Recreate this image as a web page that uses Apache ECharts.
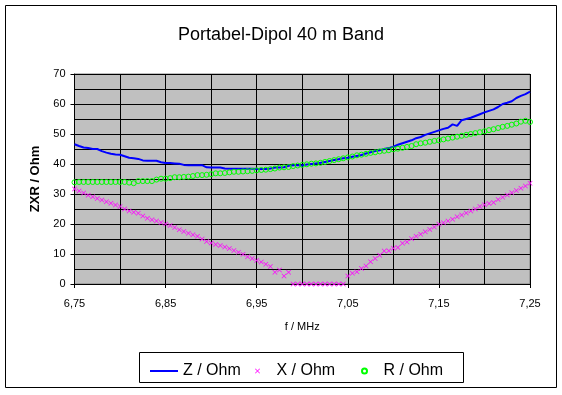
<!DOCTYPE html>
<html>
<head>
<meta charset="utf-8">
<script src="https://cdn.jsdelivr.net/npm/echarts@6/dist/echarts.min.js"></script>
<style>
  html, body { margin: 0; padding: 0; background: #fff; }
  #chart_box { width: 562px; height: 395px; }
</style>
</head>
<body>
<div id="chart_box"></div>
<script>
// Frequenz / MHz
const freq = [
  6.750, 6.755, 6.760, 6.765, 6.770, 6.775, 6.780, 6.785, 6.790, 6.795,
  6.800, 6.805, 6.810, 6.815, 6.820, 6.825, 6.830, 6.835, 6.840, 6.845,
  6.850, 6.855, 6.860, 6.865, 6.870, 6.875, 6.880, 6.885, 6.890, 6.895,
  6.900, 6.905, 6.910, 6.915, 6.920, 6.925, 6.930, 6.935, 6.940, 6.945,
  6.950, 6.955, 6.960, 6.965, 6.970, 6.975, 6.980, 6.985, 6.990, 6.995,
  7.000, 7.005, 7.010, 7.015, 7.020, 7.025, 7.030, 7.035, 7.040, 7.045,
  7.050, 7.055, 7.060, 7.065, 7.070, 7.075, 7.080, 7.085, 7.090, 7.095,
  7.100, 7.105, 7.110, 7.115, 7.120, 7.125, 7.130, 7.135, 7.140, 7.145,
  7.150, 7.155, 7.160, 7.165, 7.170, 7.175, 7.180, 7.185, 7.190, 7.195,
  7.200, 7.205, 7.210, 7.215, 7.220, 7.225, 7.230, 7.235, 7.240, 7.245,
  7.250
]
// Z / Ohm
const zOhm = [
  46.6, 46.0, 45.5, 45.3, 45.0, 45.0, 44.3, 43.8, 43.4, 43.2,
  43.1, 42.6, 42.1, 41.9, 41.7, 41.2, 41.1, 41.1, 41.1, 40.6,
  40.3, 40.3, 40.2, 40.1, 39.7, 39.6, 39.6, 39.6, 39.6, 38.9,
  38.8, 38.8, 38.8, 38.5, 38.4, 38.4, 38.4, 38.4, 38.4, 38.4,
  38.3, 38.3, 38.3, 38.5, 38.8, 38.8, 38.9, 39.4, 39.6, 39.6,
  39.5, 39.8, 40.0, 40.2, 40.4, 40.7, 41.0, 41.3, 41.6, 41.9,
  42.1, 42.4, 42.7, 43.0, 43.5, 43.9, 44.3, 44.6, 45.0, 45.3,
  45.8, 46.4, 46.9, 47.4, 47.9, 48.6, 49.0, 49.7, 50.2, 50.7,
  51.2, 51.7, 52.1, 53.2, 52.7, 54.6, 55.0, 55.4, 56.0, 56.6,
  57.2, 57.7, 58.2, 59.0, 60.0, 60.4, 60.9, 62.0, 62.7, 63.3,
  64.1
]
// X / Ohm
const xOhm = [
  31.7, 31.0, 30.3, 29.6, 29.1, 28.5, 28.0, 27.4, 26.9, 26.3,
  25.8, 25.0, 24.3, 23.9, 23.6, 22.7, 21.9, 21.4, 21.0, 20.5,
  20.0, 19.5, 18.8, 18.1, 17.5, 16.9, 16.4, 15.9, 15.0, 14.2,
  13.7, 13.2, 12.8, 12.3, 11.8, 11.2, 10.6, 9.9, 9.1, 8.5,
  7.8, 7.3, 6.6, 5.8, 3.9, 4.7, 2.7, 3.9, 0, 0,
  0, 0, 0, 0, 0, 0, 0, 0, 0, 0,
  2.7, 3.6, 4.1, 5.2, 6.0, 7.4, 8.5, 9.6, 11.0, 11.1,
  11.9, 12.2, 13.6, 14.0, 15.1, 15.9, 16.6, 17.4, 18.2, 19.0,
  19.9, 20.4, 21.0, 21.6, 22.4, 23.0, 23.7, 24.3, 25.0, 25.8,
  26.4, 26.8, 27.2, 28.2, 28.9, 29.7, 30.4, 31.2, 31.9, 32.7,
  33.6
]
// R / Ohm
const rOhm = [
  33.9, 34.0, 34.0, 34.0, 34.0, 34.0, 34.0, 34.0, 34.0, 34.0,
  34.0, 34.0, 33.8, 33.6, 34.3, 34.3, 34.3, 34.3, 34.8, 35.1,
  35.1, 35.3, 35.6, 35.6, 35.7, 35.8, 36.0, 36.3, 36.3, 36.4,
  36.6, 36.9, 36.9, 37.0, 37.2, 37.4, 37.4, 37.5, 37.6, 37.7,
  37.9, 38.0, 38.1, 38.3, 38.5, 38.8, 38.9, 39.0, 39.3, 39.5,
  39.7, 39.9, 40.1, 40.2, 40.4, 40.7, 41.0, 41.3, 41.6, 41.9,
  42.2, 42.5, 42.9, 43.1, 43.4, 43.7, 43.9, 44.2, 44.4, 44.6,
  44.9, 45.1, 45.4, 45.7, 46.0, 46.6, 46.9, 47.1, 47.4, 47.7,
  47.9, 48.2, 48.5, 48.8, 49.1, 49.4, 49.7, 50.0, 50.3, 50.6,
  50.9, 51.3, 51.6, 52.0, 52.4, 52.7, 53.1, 53.5, 54.1, 54.4,
  54.0
]
// Achsenbeschriftung
const xLabelValues = [6.75, 6.85, 6.95, 7.05, 7.15, 7.25]
const yLabelValues = [0, 10, 20, 30, 40, 50, 60, 70]

const fontName = 'Arial, "Liberation Sans", sans-serif'
// kleines x als gefuellter Pfad
const crossPath = 'path://M0,1L1,0L5,4L9,0L10,1L6,5L10,9L9,10L5,6L1,10L0,9L4,5Z'

function pairs(ys) {
  return freq.map((f, i) => [f, ys[i]])
}

const myEcharts = echarts.init(document.getElementById('chart_box'), null, { renderer: 'canvas' })

const legendText = { fontFamily: fontName, fontSize: 16, color: '#000' }
const gridLine = { show: true, lineStyle: { color: '#000', width: 1 } }

const option = {
  animation: false,
  backgroundColor: '#fff',
  title: {
    text: 'Portabel-Dipol 40 m Band',
    left: 'center',
    top: 21,
    textStyle: { fontFamily: fontName, fontSize: 18, fontWeight: 'normal', color: '#000' }
  },
  graphic: [
    // Rahmen aussen
    { type: 'rect', shape: { x: 5.5, y: 5.5, width: 551, height: 382 },
      style: { fill: null, stroke: '#000', lineWidth: 1 }, silent: true },
    // Legendenrahmen
    { type: 'rect', shape: { x: 139.5, y: 352.5, width: 324, height: 30 },
      style: { fill: null, stroke: '#000', lineWidth: 1 }, silent: true }
  ],
  legend: [
    { data: [{ name: 'Z / Ohm', icon: 'rect' }], left: 145, top: 358, itemWidth: 28, itemHeight: 2,
      selectedMode: false, textStyle: legendText },
    { data: ['X / Ohm'], left: 250, top: 358, itemWidth: 28, itemHeight: 5,
      selectedMode: false, textStyle: legendText },
    { data: ['R / Ohm'], left: 356, top: 358, itemWidth: 28, itemHeight: 5,
      selectedMode: false, textStyle: legendText }
  ],
  grid: {
    left: 74.5, right: 32, top: 74, bottom: 111,
    show: true, backgroundColor: '#C0C0C0', borderColor: '#808080', borderWidth: 1
  },
  xAxis: [
    {
      type: 'value',
      min: 6.75, max: 7.25, interval: 0.05,
      name: 'f / MHz',
      nameLocation: 'middle',
      nameGap: 37,
      nameTextStyle: { fontFamily: fontName, fontSize: 11, color: '#000' },
      axisLine: { show: true, onZero: false, lineStyle: { color: '#000', width: 1 } },
      axisTick: { show: true, length: 4, customValues: xLabelValues, lineStyle: { color: '#000' } },
      axisLabel: {
        customValues: xLabelValues,
        margin: 14,
        fontFamily: fontName, fontSize: 11, color: '#000',
        formatter: v => v.toFixed(2).replace('.', ',')
      },
      splitLine: { show: false }
    },
    {
      // nur Gitterlinien alle 0,05 MHz
      type: 'value',
      position: 'top',
      min: 6.75, max: 7.25, interval: 0.05,
      axisLine: { show: false },
      axisTick: { show: false },
      axisLabel: { show: false },
      splitLine: gridLine
    }
  ],
  yAxis: [
    {
      type: 'value',
      min: 0, max: 70, interval: 5,
      name: 'ZXR / Ohm',
      nameLocation: 'middle',
      nameRotate: 90,
      nameGap: 33,
      nameTextStyle: { fontFamily: fontName, fontSize: 13, fontWeight: 'bold', color: '#000' },
      axisLine: { show: true, lineStyle: { color: '#000', width: 1 } },
      axisTick: { show: true, length: 4, customValues: yLabelValues, lineStyle: { color: '#000' } },
      axisLabel: {
        customValues: yLabelValues,
        margin: 9,
        fontFamily: fontName, fontSize: 11, color: '#000'
      },
      splitLine: { show: false }
    },
    {
      // nur Gitterlinien alle 5 Ohm
      type: 'value',
      position: 'right',
      min: 0, max: 70, interval: 5,
      axisLine: { show: false },
      axisTick: { show: false },
      axisLabel: { show: false },
      splitLine: gridLine
    }
  ],
  series: [
    {
      name: 'Z / Ohm',
      type: 'line',
      data: pairs(zOhm),
      symbol: 'none',
      lineStyle: { color: '#0000FF', width: 2 },
      itemStyle: { color: '#0000FF' },
      z: 3
    },
    {
      name: 'X / Ohm',
      type: 'scatter',
      data: pairs(xOhm),
      symbol: crossPath,
      symbolSize: 5,
      itemStyle: { color: '#FF00FF', opacity: 1 },
      z: 4
    },
    {
      name: 'R / Ohm',
      type: 'scatter',
      data: pairs(rOhm),
      symbol: 'circle',
      symbolSize: 5,
      itemStyle: { color: 'rgba(0,0,0,0)', borderColor: '#00FF00', borderWidth: 1, opacity: 1 },
      z: 5
    }
  ]
}

myEcharts.setOption(option)
</script>
</body>
</html>
